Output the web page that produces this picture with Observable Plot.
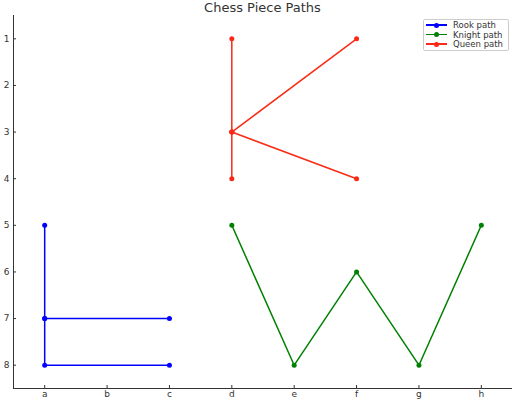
<!DOCTYPE html>
<html>
<head>
<meta charset="utf-8">
<script src="https://cdn.jsdelivr.net/npm/d3@7"></script>
<script src="https://cdn.jsdelivr.net/npm/@observablehq/plot@0.6"></script>
<style>
  body { margin: 0; background: #fff; font-family: "DejaVu Sans", sans-serif; }
  #wrap { position: relative; width: 516px; height: 403px; }
  #title { position: absolute; left: 13px; width: 499px; top: 0px; line-height: 15px; text-align: center; font-size: 13px; color: #333; }
  #legend { position: absolute; left: 423px; top: 19px; width: 86px; height: 32px; border: 1px solid #ccc; border-radius: 2px; background: #fff; font-size: 8.5px; color: #333; box-sizing: border-box; }
  .row { position: absolute; left: 0; height: 10px; display: flex; align-items: center; white-space: nowrap; }
  .sw { position: relative; width: 21px; height: 10px; margin-left: 2px; margin-right: 6px; }
  .sw .ln { position: absolute; left: 0; right: 0; top: 4px; height: 1.5px; }
  .sw .dt { position: absolute; left: 8px; top: 2.5px; width: 5px; height: 5px; border-radius: 50%; }
</style>
</head>
<body>
<div id="wrap">
  <div id="chart"></div>
  <div id="title">Chess Piece Paths</div>
  <div id="legend"></div>
</div>
<script>
const files = ["a", "b", "c", "d", "e", "f", "g", "h"];
const ranks = [1, 2, 3, 4, 5, 6, 7, 8];

const seriesNames = ["Rook path", "Knight path", "Queen path"];
const seriesColors = ["#0000ff", "#008000", "#fa2a16"];

const rookFiles = ["a", "a", "c", "a", "a", "c"];
const rookRanks = [5, 7, 7, 7, 8, 8];

const knightFiles = ["d", "e", "f", "g", "h"];
const knightRanks = [5, 8, 6, 8, 5];

const queenFiles = ["d", "d", "f", "d", "f", "d", "d"];
const queenRanks = [1, 3, 1, 3, 4, 3, 4];

function build(name, fs, rs) {
  return fs.map((f, i) => ({ series: name, x: files.indexOf(f) + 1, y: rs[i] }));
}
const data = [
  ...build(seriesNames[0], rookFiles, rookRanks),
  ...build(seriesNames[1], knightFiles, knightRanks),
  ...build(seriesNames[2], queenFiles, queenRanks)
];

const colorOf = Object.fromEntries(seriesNames.map((n, i) => [n, seriesColors[i]]));

const chart = Plot.plot({
  width: 516,
  height: 403,
  marginLeft: 13,
  marginRight: 4,
  marginTop: 15,
  marginBottom: 15,
  style: { fontFamily: "DejaVu Sans, sans-serif", fontSize: "9px", color: "#333", background: "#fff" },
  x: { domain: [0.5, 8.5] },
  y: { domain: [0.5, 8.5], reverse: true },
  marks: [
    Plot.axisX({ ticks: ranks, tickFormat: d => files[d - 1], tickSize: -3, tickPadding: 5, label: null, fontSize: 9 }),
    Plot.axisY({ ticks: ranks, tickFormat: d => String(d), tickSize: -3, tickPadding: 7, label: null, fontSize: 9 }),
    Plot.ruleX([0.5], { stroke: "#333", strokeWidth: 1 }),
    Plot.ruleY([8.5], { stroke: "#333", strokeWidth: 1 }),
    ...seriesNames.map(n => Plot.line(data.filter(d => d.series === n), { x: "x", y: "y", stroke: colorOf[n], strokeWidth: 1.5, curve: "linear" })),
    ...seriesNames.map(n => Plot.dot(data.filter(d => d.series === n), { x: "x", y: "y", fill: colorOf[n], r: 2.5 }))
  ]
});
document.getElementById("chart").appendChild(chart);

const legend = document.getElementById("legend");
seriesNames.forEach((n, i) => {
  const row = document.createElement("div");
  row.className = "row";
  row.style.top = (0 + i * 9.7) + "px";
  row.innerHTML = `<div class="sw"><div class="ln" style="background:${seriesColors[i]}"></div><div class="dt" style="background:${seriesColors[i]}"></div></div><span>${n}</span>`;
  legend.appendChild(row);
});
</script>
</body>
</html>
